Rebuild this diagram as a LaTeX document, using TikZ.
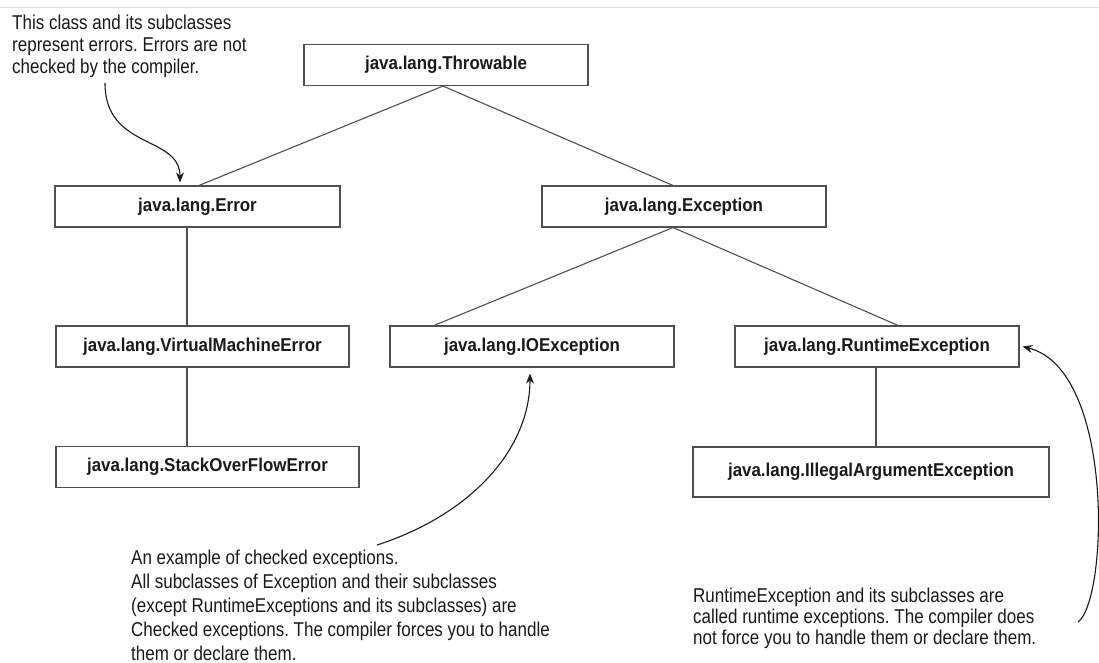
\documentclass[tikz,border=0pt]{standalone}
\usepackage{fontspec}
\usepackage{tikz}
\usetikzlibrary{arrows.meta}
\setmainfont{Liberation Sans}
\newfontfamily\notefont{Liberation Sans}[FakeStretch=0.85]
\newfontfamily\classfont{Liberation Sans}[FakeStretch=0.91]
\definecolor{boxgray}{HTML}{505050}
\definecolor{inkdark}{HTML}{1A1A1A}
\frenchspacing

\begin{document}
\begin{tikzpicture}[x=1pt, y=-1pt,
  classbox/.style={draw=boxgray, line width=1.1pt, minimum height=41pt, inner sep=0pt,
    text=inkdark, font=\classfont\bfseries\fontsize{18.6}{20}\selectfont},
  note/.style={anchor=north west, inner sep=0pt, align=left, text=inkdark,
    font=\notefont\fontsize{20}{21.7}\selectfont},
  tree/.style={draw=boxgray, line width=1.1pt},
  callout/.style={draw=inkdark, line width=1.1pt, -{Stealth[length=10pt,width=8pt]}}]
\fill[white] (0,0) rectangle (1099,663);
\useasboundingbox (0,0) rectangle (1099,663);
\draw[gray!25, line width=1pt] (0,8) -- (1099,8);

\node[classbox, minimum width=284pt] (throwable) at (446,65) {java.lang.Throwable};
\node[classbox, minimum width=285pt] (error) at (197.5,206.5) {java.lang.Error};
\node[classbox, minimum width=284pt] (exception) at (684,206.5) {java.lang.Exception};
\node[classbox, minimum width=293pt] (vmerror) at (202.5,346.5) {java.lang.VirtualMachineError};
\node[classbox, minimum width=303pt] (soerror) at (207.5,467) {java.lang.StackOverFlowError};
\node[classbox, minimum width=284pt] (ioexc) at (532,346.5) {java.lang.IOException};
\node[classbox, minimum width=284pt] (rtexc) at (877,346.5) {java.lang.RuntimeException};
\node[classbox, minimum width=356pt, minimum height=50pt] (iaexc) at (871,472) {java.lang.IllegalArgumentException};

\draw[tree] ([xshift=-3pt]throwable.south) -- ([xshift=1.5pt]error.north);
\draw[tree] ([xshift=-3pt]throwable.south) -- ([xshift=-11pt]exception.north);
\draw[tree] ([xshift=-10.5pt]error.south) -- ([xshift=-15.5pt]vmerror.north);
\draw[tree] ([xshift=-15.5pt]vmerror.south) -- ([xshift=-20.5pt]soerror.north);
\draw[tree] ([xshift=-11pt]exception.south) -- ([xshift=-98pt]ioexc.north);
\draw[tree] ([xshift=-11pt]exception.south) -- ([xshift=21pt]rtexc.north);
\draw[tree] ([xshift=-1pt]rtexc.south) -- ([xshift=5pt]iaexc.north);

\node[note] (errnote) at (12,15) {This class and its subclasses\\represent errors. Errors are not\\checked by the compiler.};
\node[note, font=\notefont\fontsize{20}{24}\selectfont] (checkednote) at (131,550)
  {An example of checked exceptions.\\All subclasses of Exception and their subclasses\\(except RuntimeExceptions and its subclasses) are\\Checked exceptions. The compiler forces you to handle\\them or declare them.};
\node[note, font=\notefont\fontsize{20}{21}\selectfont] (runtimenote) at (693,588)
  {RuntimeException and its subclasses are\\called runtime exceptions. The compiler does\\not force you to handle them or declare them.};

\coordinate (errtail) at (105,83);
\coordinate (ioetail) at (377,545);
\coordinate (rtetail) at (1078,622);
\draw[callout] (errtail) .. controls (105,150) and (180,135) .. ([xshift=-17.5pt,yshift=3pt]error.north);
\draw[callout] (ioetail) .. controls (470,515) and (530,450) .. ([xshift=-2pt,yshift=-6pt]ioexc.south);
\draw[callout] (rtetail) .. controls (1108,600) and (1115,370) .. ([xshift=3pt]rtexc.east);
\end{tikzpicture}
\end{document}
